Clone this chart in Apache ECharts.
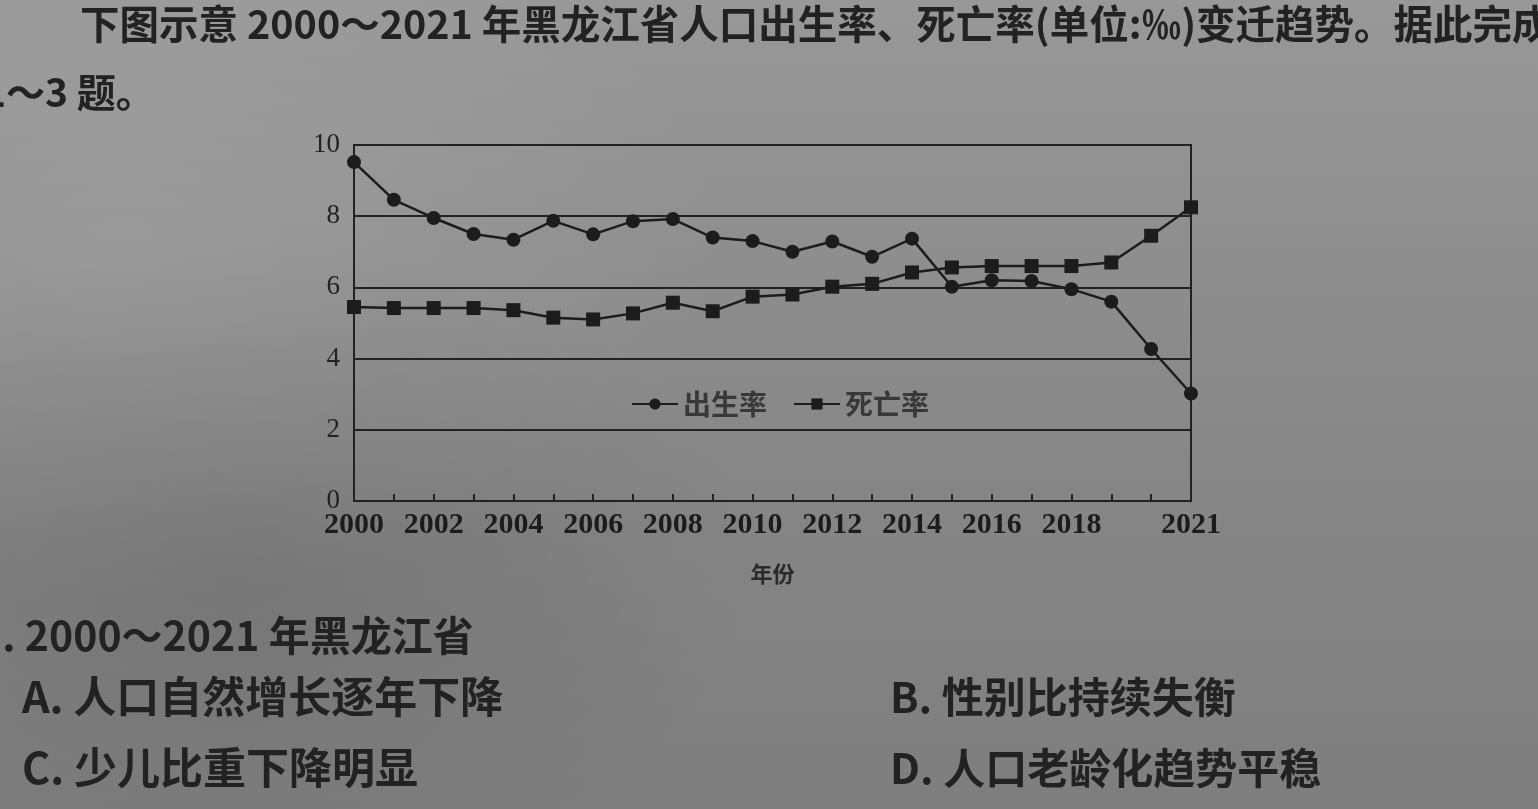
<!DOCTYPE html>
<html>
<head>
<meta charset="utf-8">
<script src="https://cdn.jsdelivr.net/npm/echarts@6/dist/echarts.min.js"></script>
<style>
  html, body { margin: 0; padding: 0; width: 1538px; height: 809px; overflow: hidden; }
  body {
    background:
      radial-gradient(ellipse 40% 45% at 8% 30%, rgba(255,255,255,0.10), rgba(255,255,255,0) 100%),
      radial-gradient(ellipse 35% 40% at 15% 70%, rgba(0,0,0,0.10), rgba(0,0,0,0) 100%),
      linear-gradient(180deg, #989898 0%, #8d8d8d 35%, #858585 65%, #7e7e7e 100%);
  }
  #chart { width: 1538px; height: 809px; }
</style>
</head>
<body>
<div id="chart"></div>
<script>
// ---- data ----
const years = ['2000','2001','2002','2003','2004','2005','2006','2007','2008','2009','2010',
               '2011','2012','2013','2014','2015','2016','2017','2018','2019','2020','2021'];
const birthRate = [9.52, 8.46, 7.95, 7.5, 7.34, 7.87, 7.49, 7.86, 7.92, 7.4, 7.3,
                   7.0, 7.29, 6.86, 7.37, 6.02, 6.2, 6.18, 5.95, 5.6, 4.27, 3.02];
const deathRate = [5.45, 5.42, 5.42, 5.42, 5.36, 5.15, 5.1, 5.27, 5.57, 5.33, 5.74,
                   5.8, 6.02, 6.1, 6.42, 6.56, 6.6, 6.6, 6.6, 6.7, 7.45, 8.25];
const yTicks = [0, 2, 4, 6, 8, 10];
const labeledYears = ['2000','2002','2004','2006','2008','2010','2012','2014','2016','2018','2021'];
const seriesNames = ['出生率', '死亡率'];
const xAxisName = '年份';
const textLines = [
  '下图示意 2000～2021 年黑龙江省人口出生率、死亡率(单位:‰)变迁趋势。据此完成',
  '1～3 题。',
  '1. 2000～2021 年黑龙江省',
  'A. 人口自然增长逐年下降',
  'B. 性别比持续失衡',
  'C. 少儿比重下降明显',
  'D. 人口老龄化趋势平稳'
];

const ink = '#1c1c1c';
const cjk = '"Noto Sans CJK SC", "Noto Sans", sans-serif';
const serif = '"Liberation Serif", "DejaVu Serif", serif';

function txt(text, x, y, size) {
  return {
    type: 'text', x: x, y: y, silent: true,
    style: { text: text, fontSize: size, fontFamily: cjk, fontWeight: 700,
             fill: '#222', verticalAlign: 'middle', align: 'left' }
  };
}

const chart = echarts.init(document.getElementById('chart'));
chart.setOption({
  backgroundColor: 'transparent',
  animation: false,
  grid: {
    left: 354, right: 347, top: 145, bottom: 308,
    show: true, borderColor: '#222', borderWidth: 2, backgroundColor: 'transparent'
  },
  legend: {
    data: seriesNames,
    left: 626, top: 385,
    itemWidth: 46, itemHeight: 14, itemGap: 26,
    textStyle: { fontFamily: cjk, fontSize: 28, fontWeight: 700, color: '#383838' }
  },
  xAxis: {
    type: 'category',
    data: years,
    boundaryGap: false,
    name: xAxisName,
    nameLocation: 'middle',
    nameGap: 62,
    nameTextStyle: { fontFamily: cjk, fontSize: 22, fontWeight: 700, color: '#2a2a2a' },
    axisLine: { show: true, lineStyle: { color: '#222', width: 2 } },
    axisTick: { show: true, inside: true, length: 7, interval: 0, alignWithLabel: true,
                lineStyle: { color: '#222', width: 2 } },
    axisLabel: {
      interval: function (idx, val) { return labeledYears.indexOf(val) >= 0; },
      fontFamily: serif, fontSize: 30, fontWeight: 700, color: ink, margin: 9
    },
    splitLine: { show: false }
  },
  yAxis: {
    type: 'value',
    min: yTicks[0], max: yTicks[yTicks.length - 1], interval: 2,
    axisLine: { show: true, lineStyle: { color: '#222', width: 2 } },
    axisTick: { show: false },
    axisLabel: { fontFamily: serif, fontSize: 27, color: '#222', margin: 14 },
    splitLine: { show: true, lineStyle: { color: '#222', width: 2 } }
  },
  series: [
    {
      name: seriesNames[0], type: 'line', data: birthRate,
      symbol: 'circle', symbolSize: 14,
      lineStyle: { color: ink, width: 2.5 },
      itemStyle: { color: ink }
    },
    {
      name: seriesNames[1], type: 'line', data: deathRate,
      symbol: 'rect', symbolSize: 14,
      lineStyle: { color: ink, width: 2.5 },
      itemStyle: { color: ink }
    }
  ],
  graphic: [
    txt(textLines[0], 80, 24, 39.5),
    txt(textLines[1], -17, 92, 39),
    txt(textLines[2], -22, 635, 41),
    txt(textLines[3], 22, 697, 43),
    txt(textLines[4], 890, 697, 42),
    txt(textLines[5], 22, 768, 43),
    txt(textLines[6], 890, 768, 42)
  ]
});
</script>
</body>
</html>
